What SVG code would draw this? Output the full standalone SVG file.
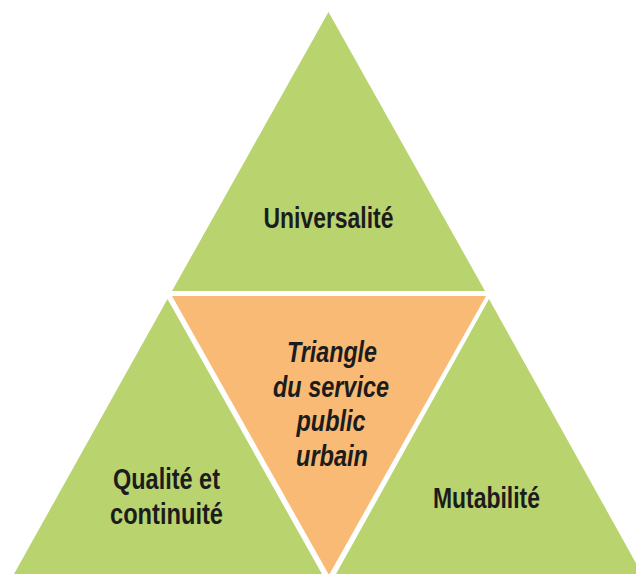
<svg xmlns="http://www.w3.org/2000/svg" width="636" height="574" viewBox="0 0 636 574">
<style>
.g{fill:#b9d36f}
.o{fill:#f8ba74}
.t{font-family:"Liberation Sans Narrow","Liberation Sans",Arial,sans-serif;font-weight:bold;font-size:29px;fill:#1c1c1c;text-anchor:middle}
.i{font-style:italic}
</style>
<rect width="636" height="574" fill="#ffffff"/>
<g id="universalite">
<polygon class="g" points="328.5,12 172,291 485,291"/>
<text class="t" x="328.5" y="228" textLength="130" lengthAdjust="spacingAndGlyphs">Universalité</text>
</g>
<g id="triangle-service-public">
<polygon class="o" points="172,296 486,296 329,575"/>
<text class="t i" x="332" y="362" textLength="90" lengthAdjust="spacingAndGlyphs">Triangle</text>
<text class="t i" x="331" y="397" textLength="116" lengthAdjust="spacingAndGlyphs">du service</text>
<text class="t i" x="331" y="431" textLength="69" lengthAdjust="spacingAndGlyphs">public</text>
<text class="t i" x="332" y="466" textLength="72" lengthAdjust="spacingAndGlyphs">urbain</text>
</g>
<g id="qualite">
<polygon class="g" points="167.5,299 14,574 322,574"/>
<text class="t" x="166.5" y="489" textLength="107" lengthAdjust="spacingAndGlyphs">Qualité et</text>
<text class="t" x="166.5" y="524" textLength="113" lengthAdjust="spacingAndGlyphs">continuité</text>
</g>
<g id="mutabilite">
<polygon class="g" points="489,299 336,574 642,574"/>
<text class="t" x="486.5" y="508" textLength="107" lengthAdjust="spacingAndGlyphs">Mutabilité</text>
</g>
<g id="connectors"/>
</svg>
